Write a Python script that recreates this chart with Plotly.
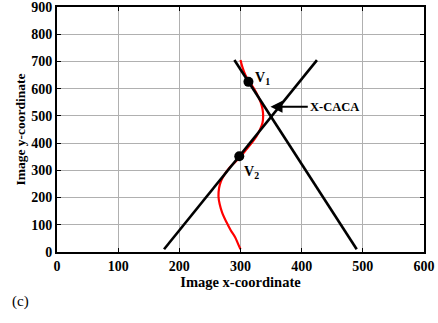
import plotly.graph_objects as go

# Straight lines (endpoints)
line1_x = [175, 425]
line1_y = [10, 705]
line2_x = [290, 490]
line2_y = [705, 10]

# Red curve
red_x = [300, 296, 291, 284, 277, 270, 266, 264, 265, 268, 274, 282, 291, 300, 309, 318, 326, 332, 336, 337, 336, 333, 328, 322, 315, 308, 303, 300]
red_y = [10, 30, 55, 80, 110, 145, 175, 205, 235, 260, 285, 310, 330, 350, 375, 400, 425, 450, 475, 500, 525, 550, 575, 600, 625, 650, 680, 705]

# Vertices
v_x = [313, 298]
v_y = [625, 352]
v_labels = ["V<sub>1</sub>", "V<sub>2</sub>"]

x_ticks = [0, 100, 200, 300, 400, 500, 600]
y_ticks = [0, 100, 200, 300, 400, 500, 600, 700, 800, 900]

SERIF = "Liberation Serif"

def bfont(size):
    return dict(family=SERIF, size=size, color="black", weight="bold")

fig = go.Figure()
fig.add_trace(go.Scatter(x=red_x, y=red_y, mode="lines", line=dict(color="#ff0000", width=2.2), line_shape="spline", showlegend=False))
fig.add_trace(go.Scatter(x=line1_x, y=line1_y, mode="lines", line=dict(color="black", width=2.6), showlegend=False))
fig.add_trace(go.Scatter(x=line2_x, y=line2_y, mode="lines", line=dict(color="black", width=2.6), showlegend=False))
fig.add_trace(go.Scatter(x=v_x, y=v_y, mode="markers", marker=dict(color="black", size=10), showlegend=False))

fig.add_annotation(x=v_x[0] + 7, y=v_y[0] + 12, text=v_labels[0], showarrow=False, xanchor="left", yanchor="middle",
                   font=bfont(14))
fig.add_annotation(x=v_x[1] + 5, y=v_y[1] - 60, text=v_labels[1], showarrow=False, xanchor="left", yanchor="middle",
                   font=bfont(14))
fig.add_annotation(x=349, y=534, ax=410, ay=534, axref="x", ayref="y", text="X-CACA",
                   showarrow=True, arrowhead=2, arrowsize=1.2, arrowwidth=2, arrowcolor="black",
                   xanchor="left", font=bfont(12.5))

fig.add_annotation(x=-0.1, y=-0.204, xref="paper", yref="paper", text="(c)", showarrow=False,
                   xanchor="center", yanchor="middle",
                   font=dict(family=SERIF, size=15, color="black"))

axis_common = dict(showgrid=True, gridcolor="#b0b0b0", gridwidth=1, showline=True, linecolor="black",
                   linewidth=2, mirror="ticks", ticks="inside", ticklen=4, tickcolor="black",
                   tickfont=bfont(14), zeroline=False, automargin=False, ticklabeloverflow="allow")

fig.update_layout(
    width=438, height=323,
    margin=dict(l=57, r=14, t=7, b=71),
    plot_bgcolor="white", paper_bgcolor="white",
    xaxis=dict(range=[0, 600], tickvals=x_ticks,
               title=dict(text="Image x-coordinate", font=bfont(14.5), standoff=0),
               **axis_common),
    yaxis=dict(range=[0, 900], tickvals=y_ticks,
               title=dict(text="Image y-coordinate", font=bfont(13.5), standoff=2),
               **axis_common),
)

fig.write_html("out.html", config={"displayModeBar": False},
               post_script="document.body.style.margin='0';")
